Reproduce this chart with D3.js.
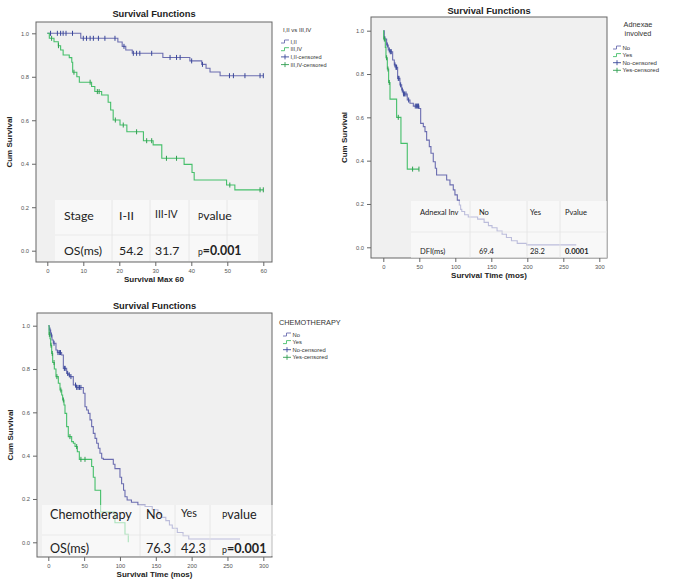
<!DOCTYPE html>
<html><head><meta charset="utf-8">
<script src="https://cdn.jsdelivr.net/npm/d3@7"></script>
<style>body{margin:0;background:#fff}svg{display:block}</style>
</head><body>
<svg id="c" width="675" height="585"></svg>
<script>
// ---------- DATA ----------
const yTicks = [0, 0.2, 0.4, 0.6, 0.8, 1.0];
const xTicksStage = [0, 10, 20, 30, 40, 50, 60];
const xTicksTime = [0, 50, 100, 150, 200, 250, 300];

// Panel 1: Stage I,II vs III,IV  [time, cum survival]
const stageLegendTitle = ["I,II vs III,IV"];
const stageLegend = ["I,II", "III,IV", "I,II-censored", "III,IV-censored"];
const stage12Steps = [[0,1.0],[9.3,0.977],[19.6,0.96],[20.8,0.94],[21.8,0.923],[23.6,0.908],[32.1,0.889],[39.6,0.873],[42.9,0.857],[44.1,0.839],[45.2,0.822],[48,0.805]];
const stage12End = 60;
const stage12Censor = [0.9,2.8,3.7,4.4,5.2,7.0,10,10.9,11.9,12.8,14.2,16,18.8,21.3,23.9,24.8,25.7,29,34.1,35.9,36.9,40.1,43.1,50.6,51.7,54.9,59.1,60];
const stage34Steps = [[0,1],[0.56,0.977],[1.86,0.961],[3.06,0.943],[3.7,0.923],[4.4,0.90],[6.1,0.888],[6.8,0.867],[7.05,0.821],[8.2,0.80],[8.9,0.775],[12.3,0.755],[13.2,0.732],[15.1,0.716],[16.9,0.683],[17.6,0.647],[18.3,0.601],[20.2,0.578],[22.1,0.547],[26.7,0.506],[29.4,0.487],[31.8,0.425],[38,0.397],[40.2,0.36],[40.8,0.325],[49.8,0.302],[52.1,0.28]];
const stage34End = 60;
const stage34Censor = [1.2,3.1,7.4,11.9,13.9,14.4,18.9,21.1,24.8,27.6,29,33.1,35.9,50.7,59.1,60];
const stageTableHead = ["Stage", "I-II", "III-IV", "Pvalue"];
const stageTableRow = ["OS(ms)", "54.2", "31.7", "p=0.001"];

// Panel 2: Adnexae involved
const adnexLegendTitle = ["Adnexae", "involved"];
const adnexLegend = ["No", "Yes", "No-censored", "Yes-censored"];
const adnexNoSteps = [[0,1],[1.4,0.962],[4.6,0.934],[6.9,0.911],[9.3,0.903],[13,0.865],[15.3,0.842],[17.6,0.831],[19.9,0.78],[23.1,0.75],[25.5,0.726],[27.8,0.708],[33.3,0.68],[37,0.665],[41.7,0.652],[49.5,0.641],[51.9,0.572],[55.6,0.557],[57.9,0.534],[60.2,0.495],[63.9,0.465],[66.2,0.434],[69.4,0.395],[72.2,0.365],[74,0.334],[88,0.311],[92.6,0.288],[97.2,0.265],[99.5,0.242],[102.8,0.218],[105.6,0.195],[107.4,0.175],[109,0.165],[113,0.15],[118,0.14],[131,0.13],[140,0.115],[146,0.1],[151,0.09],[158,0.075],[165,0.06],[171,0.045],[178,0.03],[186,0.018],[199,0.011]];
const adnexNoEnd = 268;
const adnexNoCensor = [2.3,5.5,8.3,9.7,11.1,16.2,17.6,18.5,20.8,21.8,24.1,26.4,28.2,29.6,31.5,35.2,44.4,46.3,47.7,49];
const adnexYesSteps = [[0,1],[0.5,0.962],[2.8,0.923],[3.7,0.875],[5.6,0.823],[7.4,0.761],[9.3,0.684],[18.5,0.60],[24.5,0.48],[33.3,0.361]];
const adnexYesEnd = 49.5;
const adnexYesCensor = [1.4,4.6,6.5,8.3,20.8,40.7,49.5];
const adnexTableHead = ["Adnexal Inv", "No", "Yes", "Pvalue"];
const adnexTableRow = ["DFI(ms)", "69.4", "28.2", "0.0001"];

// Panel 3: Chemotherapy
const chemoLegendTitle = ["CHEMOTHERAPY"];
const chemoLegend = ["No", "Yes", "No-censored", "Yes-censored"];
const chemoNoSteps = [[0,1],[1.4,0.98],[3.3,0.957],[5.2,0.934],[7,0.919],[10.7,0.888],[12.6,0.876],[18.6,0.865],[21,0.803],[25.6,0.78],[27.9,0.773],[30.2,0.765],[34.9,0.726],[39,0.715],[48.9,0.688],[51.2,0.626],[53.5,0.611],[55.9,0.595],[58.2,0.565],[60.5,0.534],[62.8,0.503],[65.2,0.48],[67.5,0.457],[69.8,0.434],[72.1,0.411],[74.5,0.388],[76.8,0.383],[90.7,0.36],[93,0.34],[100,0.30],[102.3,0.27],[105,0.24],[107,0.21],[110,0.195],[116,0.185],[125,0.172],[135,0.165],[145,0.15],[153,0.13],[158,0.115],[164,0.1],[169,0.08],[173,0.065],[180,0.045],[188,0.03],[196,0.015]];
const chemoNoEnd = 267.5;
const chemoNoCensor = [2.3,4.2,8,13.5,15.4,17,22.4,23.5,27,29.3,31.6,38,39.6,41.5,43.5,45.5];
const chemoYesSteps = [[0,1],[1,0.96],[2.4,0.94],[3.3,0.91],[4.7,0.872],[6.1,0.83],[8.4,0.80],[10.7,0.765],[14,0.734],[16.3,0.703],[18.7,0.68],[20,0.657],[21.9,0.634],[23.3,0.595],[25.6,0.534],[27.9,0.488],[32.6,0.465],[35,0.457],[37.3,0.442],[40.5,0.418],[43.3,0.383],[60.5,0.35],[62.8,0.30],[65.2,0.24],[73,0.14],[93,0.09],[107,0.037],[111.6,0]];
const chemoYesEnd = 111.6;
const chemoYesCensor = [1.5,3.8,5.5,8,12,17.5,21,30.2,39.6,45.5,51.2];
const chemoTableHead = ["Chemotherapy", "No", "Yes", "Pvalue"];
const chemoTableRow = ["OS(ms)", "76.3", "42.3", "p=0.001"];

// ---------- DRAW ----------
const svg = d3.select("#c");
const BLUE = "#6b6db0", BLUE_C = "#39479a", GREEN = "#45bf6a", GREEN_C = "#2f9e50";
const SANS = "'Liberation Sans', Arial, sans-serif";
const CAL = "Lato, 'Open Sans', sans-serif";

function survAt(steps, t) {
  let s = steps[0][1];
  for (const d of steps) { if (d[0] <= t) s = d[1]; }
  return s;
}

function drawPanel(cfg) {
  const g = svg.append("g");
  const [fx0, fy0, fx1, fy1] = cfg.frame;
  const x = d3.scaleLinear().domain([cfg.xTicks[0], cfg.xTicks[cfg.xTicks.length-1]]).range(cfg.xRange);
  const y = d3.scaleLinear().domain([0, 1]).range(cfg.yRange);

  g.append("rect").attr("x", fx0).attr("y", fy0).attr("width", fx1-fx0).attr("height", fy1-fy0)
    .attr("fill", "#f0f0f0").attr("stroke", "#666").attr("stroke-width", 1);

  const ya = g.append("g").attr("transform", `translate(${fx0},0)`)
    .call(d3.axisLeft(y).tickValues(yTicks).tickFormat(d3.format(".1f")).tickSize(4).tickPadding(3));
  const xa = g.append("g").attr("transform", `translate(0,${fy1})`)
    .call(d3.axisBottom(x).tickValues(cfg.xTicks).tickFormat(d3.format("d")).tickSize(4).tickPadding(3));
  [ya, xa].forEach(a => {
    a.select(".domain").remove();
    a.selectAll("line").attr("stroke", "#666");
    a.selectAll("text").attr("font-family", SANS).attr("font-size", 5.8).attr("fill", "#555");
  });

  // title and axis titles
  g.append("text").attr("x", (fx0+fx1)/2).attr("y", cfg.titleY).attr("text-anchor", "middle")
    .attr("font-family", SANS).attr("font-weight", "bold").attr("font-size", 9.3).attr("fill", "#222").text("Survival Functions");
  g.append("text").attr("x", (fx0+fx1)/2).attr("y", fy1 + 20).attr("text-anchor", "middle")
    .attr("font-family", SANS).attr("font-weight", "bold").attr("font-size", 8).attr("fill", "#222").text(cfg.xTitle);
  g.append("text").attr("transform", `translate(${fx0-24},${(fy0+fy1)/2}) rotate(-90)`).attr("text-anchor", "middle")
    .attr("font-family", SANS).attr("font-weight", "bold").attr("font-size", 8).attr("fill", "#222").text("Cum Survival");

  // curves
  const line = d3.line().x(d => x(d[0])).y(d => y(d[1])).curve(d3.curveStepAfter);
  cfg.series.forEach(s => {
    const pts = s.steps.concat([[s.end, s.steps[s.steps.length-1][1]]]);
    g.append("path").attr("d", line(pts)).attr("fill", "none").attr("stroke", s.color).attr("stroke-width", 1.1);
    g.selectAll(null).data(s.censor).enter().append("line")
      .attr("x1", d => x(d)).attr("x2", d => x(d))
      .attr("y1", d => y(survAt(s.steps, d)) - 2.5).attr("y2", d => y(survAt(s.steps, d)) + 2.5)
      .attr("stroke", s.ccolor).attr("stroke-width", 1);
  });

  // overlaid table
  const t = cfg.table;
  g.append("rect").attr("x", t.box[0]).attr("y", t.box[1]).attr("width", t.box[2]-t.box[0]).attr("height", t.box[3]-t.box[1])
    .attr("fill", "#ffffff").attr("fill-opacity", 0.55);
  t.vlines.forEach(vx => g.append("line").attr("x1", vx).attr("x2", vx).attr("y1", t.box[1]).attr("y2", t.box[3])
    .attr("stroke", "#e2e2e2").attr("stroke-width", 0.8));
  g.append("line").attr("x1", t.box[0]).attr("x2", t.box[2]).attr("y1", t.hline).attr("y2", t.hline)
    .attr("stroke", "#e6e6e6").attr("stroke-width", 0.8);
  [t.head, t.row].forEach((row, ri) => {
    row.forEach((txt, ci) => {
      const el = g.append("text").attr("x", t.cols[ci]).attr("y", t.rowsY[ri])
        .attr("font-family", CAL).attr("font-size", t.size).attr("fill", "#222");
      if (ci === 3 && txt.startsWith("p=")) {
        el.append("tspan").attr("font-size", t.size*0.7).text("p");
        el.append("tspan").attr("font-weight", "bold").text(txt.slice(1));
      } else if (ci === 3 && txt === "Pvalue" && t.smallP) {
        el.append("tspan").attr("font-size", t.size*0.7).text("P");
        el.append("tspan").text(txt.slice(1));
      } else if (ci === 3 && ri === 1) {
        el.attr("font-weight", "bold").text(txt);
      } else if (t.small && t.small[ri] === ci) {
        el.attr("font-size", t.size*0.85).attr("dy", -2).text(txt);
      } else {
        el.text(txt);
      }
    });
  });

  // legend
  const L = cfg.legend;
  L.title.forEach((tt, i) => g.append("text").attr("x", L.tx).attr("y", L.ty + i*9).attr("text-anchor", L.anchor)
    .attr("font-family", SANS).attr("font-size", L.tsize).attr("fill", "#333").text(tt));
  const colors = [cfg.series[0].color, cfg.series[1].color, cfg.series[0].ccolor, cfg.series[1].ccolor];
  L.items.forEach((txt, i) => {
    const yy = L.y0 + i*L.dy;
    if (i < 2) {
      g.append("path").attr("d", `M${L.ix},${yy+1.5}h3.5v-3h4.5`).attr("fill", "none").attr("stroke", colors[i]).attr("stroke-width", 0.9);
    } else {
      g.append("line").attr("x1", L.ix).attr("x2", L.ix+8).attr("y1", yy).attr("y2", yy).attr("stroke", colors[i]).attr("stroke-width", 0.9);
      g.append("line").attr("x1", L.ix+4).attr("x2", L.ix+4).attr("y1", yy-2.5).attr("y2", yy+2.5).attr("stroke", colors[i]).attr("stroke-width", 0.9);
    }
    g.append("text").attr("x", L.ix + 9.5).attr("y", yy + 2).attr("font-family", SANS).attr("font-size", L.size)
      .attr("fill", "#333").text(txt);
  });
}

drawPanel({
  frame: [36, 22, 272, 262], xRange: [47.3, 263.3], yRange: [250.7, 33.3], xTicks: xTicksStage,
  xTitle: "Survival Max 60", titleY: 17,
  series: [
    {steps: stage12Steps, end: stage12End, censor: stage12Censor, color: BLUE, ccolor: BLUE_C},
    {steps: stage34Steps, end: stage34End, censor: stage34Censor, color: GREEN, ccolor: GREEN_C}
  ],
  table: {box: [55, 200, 258, 261], vlines: [112, 150, 189, 227], hline: 235, cols: [64, 119, 155, 198],
    rowsY: [220, 255], size: 12.3, head: stageTableHead, row: stageTableRow, smallP: true, small: [2, null]},
  legend: {title: stageLegendTitle, tx: 283, ty: 32, anchor: "start", tsize: 6,
    items: stageLegend, ix: 281, y0: 41.5, dy: 7.7, size: 5.6}
});

drawPanel({
  frame: [371, 17, 607, 258], xRange: [383.3, 599.3], yRange: [247.3, 30.7], xTicks: xTicksTime,
  xTitle: "Survival Time (mos)", titleY: 14,
  series: [
    {steps: adnexNoSteps, end: adnexNoEnd, censor: adnexNoCensor, color: BLUE, ccolor: BLUE_C},
    {steps: adnexYesSteps, end: adnexYesEnd, censor: adnexYesCensor, color: GREEN, ccolor: GREEN_C}
  ],
  table: {box: [411, 201, 607, 258], vlines: [470, 527, 560], hline: 232, cols: [420, 479, 530, 565],
    rowsY: [215, 254], size: 7.5, head: adnexTableHead, row: adnexTableRow, smallP: false, small: null},
  legend: {title: adnexLegendTitle, tx: 638, ty: 27, anchor: "middle", tsize: 7.3,
    items: adnexLegend, ix: 613, y0: 47.5, dy: 7.6, size: 6}
});

drawPanel({
  frame: [37, 313, 272, 557], xRange: [48.3, 263.3], yRange: [542.3, 325.7], xTicks: xTicksTime,
  xTitle: "Survival Time (mos)", titleY: 309,
  series: [
    {steps: chemoNoSteps, end: chemoNoEnd, censor: chemoNoCensor, color: BLUE, ccolor: BLUE_C},
    {steps: chemoYesSteps, end: chemoYesEnd, censor: chemoYesCensor, color: GREEN, ccolor: GREEN_C}
  ],
  table: {box: [42, 505, 276, 556], vlines: [140, 175, 210], hline: 535, cols: [50, 146, 181, 222],
    rowsY: [519, 553], size: 12.6, head: chemoTableHead, row: chemoTableRow, smallP: true, small: [2, null]},
  legend: {title: chemoLegendTitle, tx: 279, ty: 325, anchor: "start", tsize: 7.3,
    items: chemoLegend, ix: 283, y0: 334.5, dy: 7.6, size: 5.8}
});
</script>
</body></html>
